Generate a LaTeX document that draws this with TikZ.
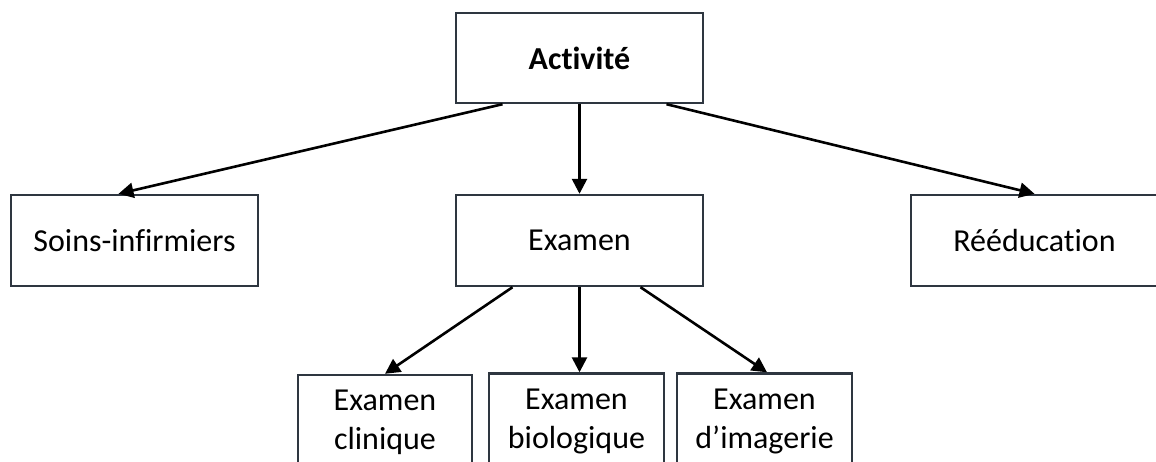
\documentclass[tikz,border=0pt]{standalone}
\usepackage{fontspec}
\setmainfont{Carlito}[Ligatures=NoCommon]
\usetikzlibrary{arrows.meta,positioning}

\definecolor{boxline}{HTML}{2E3640}

\tikzset{
  box/.style={draw=boxline, line width=2.4pt, fill=white, inner sep=0pt,
              minimum width=#1, align=center, font=\fontsize{32}{39}\selectfont},
  box/.default=247pt,
  arr/.style={line width=2.6pt, -{Triangle[length=15pt,width=15pt]}}
}

\begin{document}
\begin{tikzpicture}[x=1pt,y=-1pt]
  \useasboundingbox (0,0) rectangle (1156,462);
  \clip (0,0) rectangle (1156,462);

  % top level
  \node[box, minimum height=90pt] (act) at (579.5,58) {\textbf{Activité}};

  % second level
  \node[box, minimum height=91pt] (soins) at (134.5,240.5) {Soins-infirmiers};
  \node[box, minimum height=91pt] (exam)  at (579.5,240.5) {Examen};
  \node[box, minimum height=91pt] (reed)  at (1034.5,240.5) {Rééducation};

  % third level (runs past the bottom edge)
  \node[box=174pt, minimum height=95pt] (clin) at (385,422.5) {Examen\\clinique};
  \node[box=175pt, minimum height=95pt] (bio)  at (576.5,421) {Examen\\biologique};
  \node[box=175pt, minimum height=95pt] (img)  at (764.5,421) {Examen\\d’imagerie};

  % connectors from Activité
  \draw[arr] ([xshift=-77pt]act.south) -- ([xshift=-16pt]soins.north);
  \draw[arr] (act.south) -- (exam.north);
  \draw[arr] ([xshift=87pt]act.south) -- (reed.north);

  % connectors from Examen
  \draw[arr] ([xshift=-67pt]exam.south) -- (clin.north);
  \draw[arr] (exam.south) -- ([xshift=3pt]bio.north);
  \draw[arr] ([xshift=61pt]exam.south) -- ([xshift=2.5pt]img.north);
\end{tikzpicture}
\end{document}
